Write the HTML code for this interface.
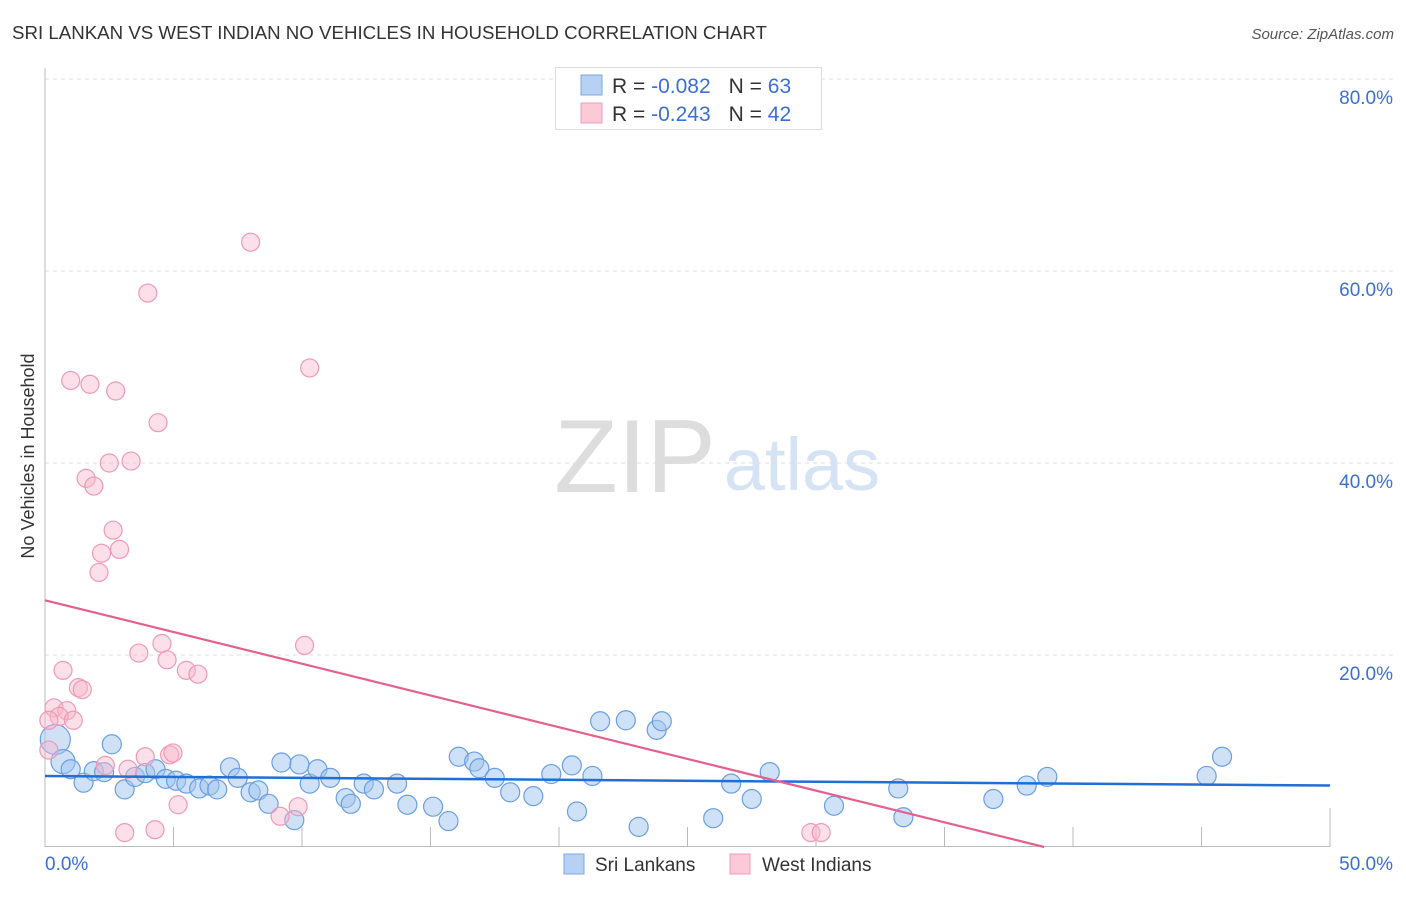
<!DOCTYPE html>
<html><head><meta charset="utf-8"><style>
body{margin:0;background:#fff;font-family:"Liberation Sans",sans-serif}
svg text{font-family:"Liberation Sans",sans-serif}
</style></head><body>
<svg width="1406" height="892" viewBox="0 0 1406 892">
<text x="12" y="39" font-size="18.7" fill="#333">SRI LANKAN VS WEST INDIAN NO VEHICLES IN HOUSEHOLD CORRELATION CHART</text>
<text x="1394" y="39" font-size="15" fill="#555" text-anchor="end" font-style="italic">Source: ZipAtlas.com</text>
<text x="34" y="456" font-size="18" fill="#333" text-anchor="middle" transform="rotate(-90 34 456)">No Vehicles in Household</text>
<g><text x="635" y="492" font-size="104" fill="#ddd" text-anchor="middle" font-family="Liberation Serif">ZIP</text><text x="802" y="490" font-size="74" fill="#d5e3f5" text-anchor="middle">atlas</text></g>
<g id="grid"></g><g id="axes"></g><g id="pts"></g><g id="lines"></g>
<g>
<rect x="555.5" y="67.5" width="266" height="62" fill="#fff" stroke="#ddd"/>
<rect x="581" y="75" width="21" height="20" fill="#b7d1f3" stroke="#7aa8e6"/>
<rect x="581" y="103" width="21" height="20" fill="#fbc9d8" stroke="#ef9db7"/>
<text x="612" y="93" font-size="21" fill="#333">R = <tspan fill="#3a6fd8">-0.082</tspan><tspan dx="18">N = </tspan><tspan fill="#3a6fd8">63</tspan></text>
<text x="612" y="121" font-size="21" fill="#333">R = <tspan fill="#3a6fd8">-0.243</tspan><tspan dx="18">N = </tspan><tspan fill="#3a6fd8">42</tspan></text>
</g>
<g>
<rect x="564" y="854" width="20" height="20" fill="#b7d1f3" stroke="#7aa8e6"/><text x="595" y="871" font-size="19" fill="#333">Sri Lankans</text>
<rect x="730" y="854" width="20" height="20" fill="#fbc9d8" stroke="#ef9db7"/><text x="762" y="871" font-size="19" fill="#333">West Indians</text>
</g>
<text x="45" y="870" font-size="19" fill="#3a6fd8">0.0%</text>
<text x="1393" y="870" font-size="19" fill="#3a6fd8" text-anchor="end">50.0%</text>
</svg>
<script>
const yTicks=[20,40,60,80];
const yTickLabels=["20.0%","40.0%","60.0%","80.0%"];
const xTicks=[0,5,10,15,20,25,30,35,40,45,50];
const sriX=[0.4,0.7,1.0,1.5,1.9,2.3,2.6,3.1,3.5,3.9,4.3,4.7,5.1,5.5,6.0,6.4,6.7,7.2,7.5,8.0,8.3,8.7,9.2,9.7,9.9,10.3,10.6,11.1,11.7,11.9,12.4,12.8,13.7,14.1,15.1,15.7,16.1,16.7,16.9,17.5,18.1,19.7,19.0,20.5,20.7,21.3,21.6,22.6,23.1,23.8,24.0,26.0,26.7,27.5,28.2,30.7,33.2,33.4,36.9,38.2,39.0,45.2,45.8];
const sriY=[11.2,8.9,8.1,6.7,7.9,7.8,10.7,6.0,7.3,7.7,8.1,7.1,6.9,6.6,6.1,6.4,6.0,8.3,7.2,5.7,5.9,4.5,8.8,2.8,8.6,6.6,8.1,7.2,5.1,4.5,6.6,6.0,6.6,4.4,4.2,2.7,9.4,8.9,8.2,7.2,5.7,7.6,5.3,8.5,3.7,7.4,13.1,13.2,2.1,12.2,13.1,3.0,6.6,5.0,7.8,4.3,6.1,3.1,5.0,6.4,7.3,7.4,9.4];
const wiX=[8.0,4.0,10.3,1.0,1.75,2.75,4.4,2.5,3.35,1.6,1.9,2.65,2.2,2.9,2.1,4.55,10.1,3.65,4.75,5.5,5.95,0.7,1.3,1.45,0.35,0.85,0.55,1.1,0.15,0.15,2.35,3.9,4.85,4.98,3.23,5.18,9.85,9.15,3.1,4.28,29.8,30.2];
const wiY=[63.0,57.7,49.9,48.6,48.2,47.5,44.2,40.0,40.2,38.4,37.6,33.0,30.6,31.0,28.6,21.2,21.0,20.2,19.5,18.4,18.0,18.4,16.6,16.4,14.5,14.2,13.6,13.2,13.2,10.1,8.5,9.4,9.6,9.8,8.1,4.4,4.2,3.2,1.5,1.8,1.5,1.5];
const trendIntercept=[7.4,25.7];
const trendSlope=[-0.02,-0.661];
const X=v=>45+v*25.7, Y=v=>847-v*9.6;
const NS="http://www.w3.org/2000/svg";
function mk(p,t,a){const e=document.createElementNS(NS,t);for(const k in a)e.setAttribute(k,a[k]);p.appendChild(e);return e;}
const grid=document.getElementById('grid'),axes=document.getElementById('axes'),pts=document.getElementById('pts'),lines=document.getElementById('lines');
yTicks.forEach((v,i)=>{
 const l=mk(grid,'line',{x1:45,x2:1393,y1:Y(v),y2:Y(v),stroke:'#ddd','stroke-dasharray':'4 4'});
 
 
 const t=mk(grid,'text',{x:1393,y:Y(v)+25,'font-size':19,fill:'#3a6fd8','text-anchor':'end'});
 t.textContent=yTickLabels[i];
 
 
});
const ax=mk(axes,'line',{x1:45,x2:45,y1:68,y2:847,stroke:'#bbb'});


const bx=mk(axes,'line',{x1:45,x2:1330,y1:846.5,y2:846.5,stroke:'#bbb'});


xTicks.forEach((v,i)=>{
 if(i===0)return;
 const t=mk(axes,'line',{x1:X(v),x2:X(v),y1:i===xTicks.length-1?808:827,y2:847,stroke:'#bbb'});
 
 
});
sriX.forEach((v,i)=>{
 const c=mk(pts,'circle',{cx:X(v),cy:Y(sriY[i]),r:i===0?15:(i===1?12:9.5),fill:'rgba(160,196,240,0.5)',stroke:'#6a9fe3','stroke-width':1.2});
 
 
});
wiX.forEach((v,i)=>{
 const c=mk(pts,'circle',{cx:X(v),cy:Y(wiY[i]),r:9,fill:'rgba(248,185,205,0.45)',stroke:'#ee9ab5','stroke-width':1.2});
 
 
});
const b1=mk(lines,'line',{x1:X(0),y1:Y(trendIntercept[0]),x2:X(50),y2:Y(trendIntercept[0]+trendSlope[0]*50),stroke:'#1f6fd6','stroke-width':2.5});


const xe=-trendIntercept[1]/trendSlope[1];
const p1=mk(lines,'line',{x1:X(0),y1:Y(trendIntercept[1]),x2:X(xe),y2:Y(0),stroke:'#e4608e','stroke-width':2.2});


</script>
</body></html>
